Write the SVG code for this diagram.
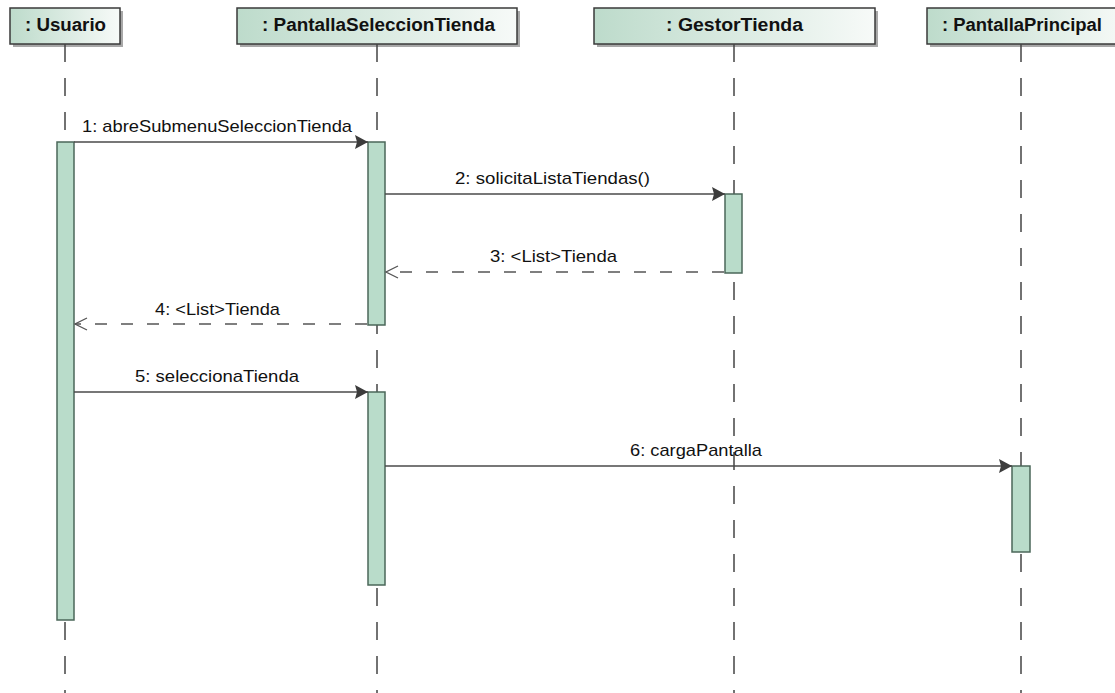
<svg xmlns="http://www.w3.org/2000/svg" width="1115" height="693" viewBox="0 0 1115 693">
  <defs>
    <linearGradient id="hdr" x1="0" y1="0" x2="1" y2="0">
      <stop offset="0" stop-color="#bddbcb"/>
      <stop offset="1" stop-color="#f7faf8"/>
    </linearGradient>
    <marker id="solid" viewBox="0 0 14 14" refX="13" refY="7" markerWidth="14" markerHeight="14" markerUnits="userSpaceOnUse" orient="auto">
      <path d="M0,0 L13,7 L0,14 L2,7 Z" fill="#3c3c3c"/>
    </marker>
    <marker id="open" viewBox="0 0 14 14" refX="13" refY="7" markerWidth="14" markerHeight="14" markerUnits="userSpaceOnUse" orient="auto">
      <path d="M1,1 L13,7 L1,13" fill="none" stroke="#555" stroke-width="1.3"/>
    </marker>
  </defs>
  <style>
    .shadow { fill: #a8a8a8; }
    .head { fill: url(#hdr); stroke: #3a3a3a; stroke-width: 1.5; }
    .htxt { font-family: "Liberation Sans", Arial, sans-serif; font-weight: bold; font-size: 18px; fill: #111; }
    .life { stroke: #444; stroke-width: 1.5; stroke-dasharray: 18 16; fill: none; }
    .act { fill: #b9dcca; stroke: #4b6759; stroke-width: 1.5; }
    .msg { stroke: #4a4a4a; stroke-width: 1.5; fill: none; }
    .ret { stroke: #555; stroke-width: 1.3; fill: none; stroke-dasharray: 12 14; }
    .mtxt { font-family: "Liberation Sans", Arial, sans-serif; font-size: 17px; fill: #111; }
  </style>
  <rect width="1115" height="693" fill="#ffffff"/>

  <g id="usuario">
    <rect class="shadow" x="13" y="11" width="110" height="36"/>
    <rect class="head" x="10" y="8" width="110" height="36"/>
    <text class="htxt" x="25" y="31" textLength="81" lengthAdjust="spacingAndGlyphs">: Usuario</text>
    <line class="life" x1="65" y1="44" x2="65" y2="693"/>
    <rect class="act" x="57" y="142" width="17" height="478"/>
  </g>

  <g id="pantallaSeleccionTienda">
    <rect class="shadow" x="240" y="11" width="280" height="36"/>
    <rect class="head" x="237" y="8" width="280" height="36"/>
    <text class="htxt" x="262" y="31" textLength="233" lengthAdjust="spacingAndGlyphs">: PantallaSeleccionTienda</text>
    <line class="life" x1="377" y1="44" x2="377" y2="693"/>
    <rect class="act" x="368" y="142" width="17" height="183"/>
    <rect class="act" x="368" y="392" width="17" height="193"/>
  </g>

  <g id="gestorTienda">
    <rect class="shadow" x="597" y="11" width="281" height="36"/>
    <rect class="head" x="594" y="8" width="281" height="36"/>
    <text class="htxt" x="666" y="31" textLength="137" lengthAdjust="spacingAndGlyphs">: GestorTienda</text>
    <line class="life" x1="734" y1="44" x2="734" y2="693"/>
    <rect class="act" x="725" y="194" width="17" height="79"/>
  </g>

  <g id="pantallaPrincipal">
    <rect class="shadow" x="930" y="11" width="200" height="36"/>
    <rect class="head" x="927" y="8" width="200" height="36"/>
    <text class="htxt" x="942" y="31" textLength="160" lengthAdjust="spacingAndGlyphs">: PantallaPrincipal</text>
    <line class="life" x1="1021" y1="44" x2="1021" y2="693"/>
    <rect class="act" x="1012" y="466" width="18" height="86"/>
  </g>

  <g id="connectors">
    <line class="msg" x1="74" y1="142" x2="368" y2="142" marker-end="url(#solid)"/>
    <text class="mtxt" x="82" y="132" textLength="270" lengthAdjust="spacingAndGlyphs">1: abreSubmenuSeleccionTienda</text>

    <line class="msg" x1="385" y1="194" x2="725" y2="194" marker-end="url(#solid)"/>
    <text class="mtxt" x="455" y="184" textLength="195" lengthAdjust="spacingAndGlyphs">2: solicitaListaTiendas()</text>

    <line class="ret" x1="724" y1="272" x2="386" y2="272" marker-end="url(#open)"/>
    <text class="mtxt" x="490" y="262" textLength="127" lengthAdjust="spacingAndGlyphs">3: &lt;List&gt;Tienda</text>

    <line class="ret" x1="367" y1="324" x2="75" y2="324" marker-end="url(#open)"/>
    <text class="mtxt" x="155" y="315" textLength="125" lengthAdjust="spacingAndGlyphs">4: &lt;List&gt;Tienda</text>

    <line class="msg" x1="74" y1="392" x2="368" y2="392" marker-end="url(#solid)"/>
    <text class="mtxt" x="135" y="382" textLength="164" lengthAdjust="spacingAndGlyphs">5: seleccionaTienda</text>

    <line class="msg" x1="385" y1="466" x2="1012" y2="466" marker-end="url(#solid)"/>
    <text class="mtxt" x="630" y="456" textLength="132" lengthAdjust="spacingAndGlyphs">6: cargaPantalla</text>
  </g>
</svg>
